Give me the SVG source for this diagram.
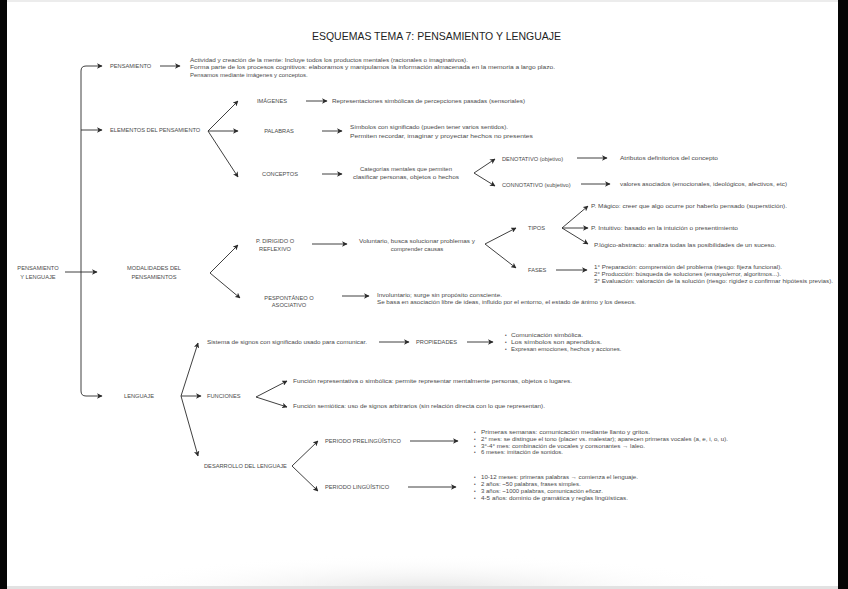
<svg xmlns="http://www.w3.org/2000/svg" width="848" height="589" viewBox="0 0 848 589">
<defs>
<style>
.t{font-family:"Liberation Sans",Arial,sans-serif;font-size:5.7px;fill:#4a4a4a}
.b{font-size:6px}
.c{text-anchor:middle}
.title{font-family:"Liberation Sans",Arial,sans-serif;font-size:11.5px;fill:#1e1e1e;text-anchor:middle}
.ln{stroke:#2a2a2a;stroke-width:0.9;fill:none;marker-end:url(#ah)}
.dot{font-size:4.5px}
</style>
<marker id="ah" viewBox="0 0 10 10" refX="9" refY="5" markerWidth="5.5" markerHeight="5.5" markerUnits="userSpaceOnUse" orient="auto-start-reverse">
<path d="M0,0 L10,5 L0,10 L2.5,5 z" fill="#2a2a2a"/>
</marker>
<radialGradient id="sh" cx="0.5" cy="0.5" r="0.5">
<stop offset="0" stop-color="#e2e2e2"/>
<stop offset="1" stop-color="#ffffff" stop-opacity="0"/>
</radialGradient>
</defs>
<rect x="0" y="0" width="848" height="589" fill="#ffffff"/>
<ellipse cx="424" cy="592" rx="330" ry="38" fill="url(#sh)"/>
<rect x="7" y="0" width="831" height="2" fill="#ececec"/>
<rect x="7" y="586" width="831" height="3" fill="#e2e2e2"/>
<rect x="0" y="0" width="7" height="589" fill="#050505"/>
<rect x="838" y="0" width="10" height="589" fill="#050505"/>

<text class="title" x="436.5" y="39.5" textLength="249" lengthAdjust="spacingAndGlyphs">ESQUEMAS TEMA 7: PENSAMIENTO Y LENGUAJE</text>

<g id="connectors">
<path class="ln" style="marker-start:url(#ah)" d="M102,66 H86 Q81,66 81,71 V391 Q81,396 86,396 H102"/>
<line class="ln" x1="81" y1="130" x2="102" y2="130"/>
<line class="ln" x1="65" y1="272" x2="97" y2="272"/>
<line class="ln" x1="160" y1="66" x2="180" y2="66"/>
<line class="ln" x1="208" y1="131" x2="238" y2="101"/>
<line class="ln" x1="208" y1="131" x2="238" y2="131"/>
<line class="ln" x1="208" y1="131" x2="238" y2="177"/>
<line class="ln" x1="306" y1="101" x2="327" y2="101"/>
<line class="ln" x1="322" y1="131" x2="342" y2="131"/>
<line class="ln" x1="322" y1="174" x2="342" y2="174"/>
<line class="ln" x1="474" y1="173" x2="495" y2="159"/>
<line class="ln" x1="474" y1="173" x2="495" y2="186"/>
<line class="ln" x1="577" y1="158" x2="607" y2="158"/>
<line class="ln" x1="581" y1="184" x2="610" y2="184"/>
<line class="ln" x1="210" y1="273" x2="238" y2="245"/>
<line class="ln" x1="210" y1="273" x2="240" y2="298"/>
<line class="ln" x1="312" y1="244" x2="347" y2="244"/>
<line class="ln" x1="485" y1="244" x2="516" y2="228"/>
<line class="ln" x1="485" y1="244" x2="516" y2="268"/>
<line class="ln" x1="562" y1="228" x2="588" y2="206"/>
<line class="ln" x1="562" y1="228" x2="588" y2="228"/>
<line class="ln" x1="562" y1="228" x2="588" y2="244"/>
<line class="ln" x1="556" y1="270" x2="587" y2="270"/>
<line class="ln" x1="342" y1="296" x2="369" y2="296"/>
<line class="ln" x1="181" y1="396" x2="198" y2="343"/>
<line class="ln" x1="181" y1="396" x2="201" y2="396"/>
<line class="ln" x1="181" y1="396" x2="198" y2="456"/>
<line class="ln" x1="379" y1="342" x2="409" y2="342"/>
<line class="ln" x1="467" y1="342" x2="493" y2="342"/>
<line class="ln" x1="256" y1="397" x2="287" y2="381"/>
<line class="ln" x1="256" y1="397" x2="287" y2="407"/>
<line class="ln" x1="292" y1="466" x2="318" y2="441"/>
<line class="ln" x1="292" y1="466" x2="318" y2="491"/>
<line class="ln" x1="410" y1="441" x2="458" y2="441"/>
<line class="ln" x1="408" y1="487" x2="456" y2="487"/>
</g>

<g id="n-root"><text class="t c" x="38" y="270">PENSAMIENTO</text><text class="t c" x="38" y="279">Y LENGUAJE</text></g>

<g id="n-pensamiento"><text class="t" x="110" y="68">PENSAMIENTO</text></g>
<g id="n-pensamiento-desc">
<text class="t b" x="190" y="62" textLength="278" lengthAdjust="spacingAndGlyphs">Actividad y creación de la mente: Incluye todos los productos mentales (racionales o imaginativos).</text>
<text class="t b" x="190" y="69.3" textLength="365" lengthAdjust="spacingAndGlyphs">Forma parte de los procesos cognitivos: elaboramos y manipulamos la información almacenada en la memoria a largo plazo.</text>
<text class="t b" x="190" y="76.6">Pensamos mediante imágenes y conceptos.</text>
</g>

<g id="n-elementos"><text class="t" x="110" y="132">ELEMENTOS DEL PENSAMIENTO</text></g>
<g id="n-imagenes"><text class="t c" x="272" y="103">IMÁGENES</text></g>
<g id="n-imagenes-desc"><text class="t b" x="332" y="103" textLength="193" lengthAdjust="spacingAndGlyphs">Representaciones simbólicas de percepciones pasadas (sensoriales)</text></g>
<g id="n-palabras"><text class="t c" x="279" y="133">PALABRAS</text></g>
<g id="n-palabras-desc">
<text class="t b" x="350" y="129" textLength="158" lengthAdjust="spacingAndGlyphs">Símbolos con significado (pueden tener varios sentidos).</text>
<text class="t b" x="350" y="137.5" textLength="183" lengthAdjust="spacingAndGlyphs">Permiten recordar, imaginar y proyectar hechos no presentes</text>
</g>
<g id="n-conceptos"><text class="t c" x="280" y="176">CONCEPTOS</text></g>
<g id="n-conceptos-desc">
<text class="t b c" x="406" y="171" textLength="92" lengthAdjust="spacingAndGlyphs">Categorías mentales que permiten</text>
<text class="t b c" x="406" y="179" textLength="106" lengthAdjust="spacingAndGlyphs">clasificar personas, objetos o hechos</text>
</g>
<g id="n-denotativo"><text class="t" x="502" y="161">DENOTATIVO (objetivo)</text></g>
<g id="n-denotativo-desc"><text class="t b" x="620" y="160" textLength="98" lengthAdjust="spacingAndGlyphs">Atributos definitorios del concepto</text></g>
<g id="n-connotativo"><text class="t" x="502" y="187">CONNOTATIVO (subjetivo)</text></g>
<g id="n-connotativo-desc"><text class="t b" x="620" y="186" textLength="167" lengthAdjust="spacingAndGlyphs">valores asociados (emocionales, ideológicos, afectivos, etc)</text></g>

<g id="n-modalidades"><text class="t c" x="154" y="270">MODALIDADES DEL</text><text class="t c" x="154" y="279">PENSAMIENTOS</text></g>
<g id="n-dirigido"><text class="t c" x="275" y="243">P. DIRIGIDO O</text><text class="t c" x="275" y="250.5">REFLEXIVO</text></g>
<g id="n-dirigido-desc">
<text class="t b c" x="417" y="243" textLength="116" lengthAdjust="spacingAndGlyphs">Voluntario, busca solucionar problemas y</text>
<text class="t b c" x="417" y="251">comprender causas</text>
</g>
<g id="n-tipos"><text class="t" x="528" y="230">TIPOS</text></g>
<g id="n-magico"><text class="t b" x="591" y="208" textLength="196" lengthAdjust="spacingAndGlyphs">P. Mágico: creer que algo ocurre por haberlo pensado (superstición).</text></g>
<g id="n-intuitivo"><text class="t b" x="591" y="230" textLength="147" lengthAdjust="spacingAndGlyphs">P. Intuitivo: basado en la intuición o presentimiento</text></g>
<g id="n-logico"><text class="t b" x="594" y="247" textLength="182" lengthAdjust="spacingAndGlyphs">P.lógico-abstracto: analiza todas las posibilidades de un suceso.</text></g>
<g id="n-fases"><text class="t" x="528" y="272">FASES</text></g>
<g id="n-fases-desc">
<text class="t b" x="594" y="269" textLength="188" lengthAdjust="spacingAndGlyphs">1° Preparación: comprensión del problema (riesgo: fijeza funcional).</text>
<text class="t b" x="594" y="276" textLength="187" lengthAdjust="spacingAndGlyphs">2° Producción: búsqueda de soluciones (ensayo/error, algoritmos...).</text>
<text class="t b" x="594" y="283" textLength="239" lengthAdjust="spacingAndGlyphs">3° Evaluación: valoración de la solución (riesgo: rigidez o confirmar hipótesis previas).</text>
</g>
<g id="n-espontaneo"><text class="t c" x="289" y="299.5">PESPONTÁNEO O</text><text class="t c" x="289" y="306.5">ASOCIATIVO</text></g>
<g id="n-espontaneo-desc">
<text class="t b" x="377" y="297" textLength="125" lengthAdjust="spacingAndGlyphs">Involuntario; surge sin propósito consciente.</text>
<text class="t b" x="377" y="304" textLength="259" lengthAdjust="spacingAndGlyphs">Se basa en asociación libre de ideas, influido por el entorno, el estado de ánimo y los deseos.</text>
</g>

<g id="n-lenguaje"><text class="t c" x="139" y="398">LENGUAJE</text></g>
<g id="n-sistema"><text class="t b" x="207" y="344" textLength="160" lengthAdjust="spacingAndGlyphs">Sistema de signos con significado usado para comunicar.</text></g>
<g id="n-propiedades"><text class="t" x="416" y="344">PROPIEDADES</text></g>
<g id="n-propiedades-list">
<text class="t dot" x="505" y="337">•</text><text class="t b" x="511" y="337" textLength="72" lengthAdjust="spacingAndGlyphs">Comunicación simbólica.</text>
<text class="t dot" x="505" y="344">•</text><text class="t b" x="511" y="344" textLength="91" lengthAdjust="spacingAndGlyphs">Los símbolos son aprendidos.</text>
<text class="t dot" x="505" y="351">•</text><text class="t b" x="511" y="351">Expresan emociones, hechos y acciones.</text>
</g>
<g id="n-funciones"><text class="t" x="207" y="398">FUNCIONES</text></g>
<g id="n-func-rep"><text class="t b" x="293" y="383" textLength="279" lengthAdjust="spacingAndGlyphs">Función representativa o simbólica: permite representar mentalmente personas, objetos o lugares.</text></g>
<g id="n-func-sem"><text class="t b" x="293" y="408" textLength="252" lengthAdjust="spacingAndGlyphs">Función semiótica: uso de signos arbitrarios (sin relación directa con lo que representan).</text></g>
<g id="n-desarrollo"><text class="t" x="204" y="468">DESARROLLO DEL LENGUAJE</text></g>
<g id="n-prelinguistico"><text class="t" x="325" y="443">PERIODO PRELINGÜÍSTICO</text></g>
<g id="n-prelinguistico-list">
<text class="t dot" x="474" y="434">•</text><text class="t b" x="481" y="434" textLength="169" lengthAdjust="spacingAndGlyphs">Primeras semanas: comunicación mediante llanto y gritos.</text>
<text class="t dot" x="474" y="441">•</text><text class="t b" x="481" y="441" textLength="247" lengthAdjust="spacingAndGlyphs">2° mes: se distingue el tono (placer vs. malestar); aparecen primeras vocales (a, e, i, o, u).</text>
<text class="t dot" x="474" y="447.5">•</text><text class="t b" x="481" y="447.5" textLength="164" lengthAdjust="spacingAndGlyphs">3°-4° mes: combinación de vocales y consonantes → laleo.</text>
<text class="t dot" x="474" y="454">•</text><text class="t b" x="481" y="454">6 meses: imitación de sonidos.</text>
</g>
<g id="n-linguistico"><text class="t" x="325" y="489">PERIODO LINGÜÍSTICO</text></g>
<g id="n-linguistico-list">
<text class="t dot" x="474" y="479">•</text><text class="t b" x="481" y="479" textLength="157" lengthAdjust="spacingAndGlyphs">10-12 meses: primeras palabras → comienza el lenguaje.</text>
<text class="t dot" x="474" y="486">•</text><text class="t b" x="481" y="486">2 años: ~50 palabras, frases simples.</text>
<text class="t dot" x="474" y="493">•</text><text class="t b" x="481" y="493">3 años: ~1000 palabras, comunicación eficaz.</text>
<text class="t dot" x="474" y="500">•</text><text class="t b" x="481" y="500" textLength="147" lengthAdjust="spacingAndGlyphs">4-5 años: dominio de gramática y reglas lingüísticas.</text>
</g>
</svg>
